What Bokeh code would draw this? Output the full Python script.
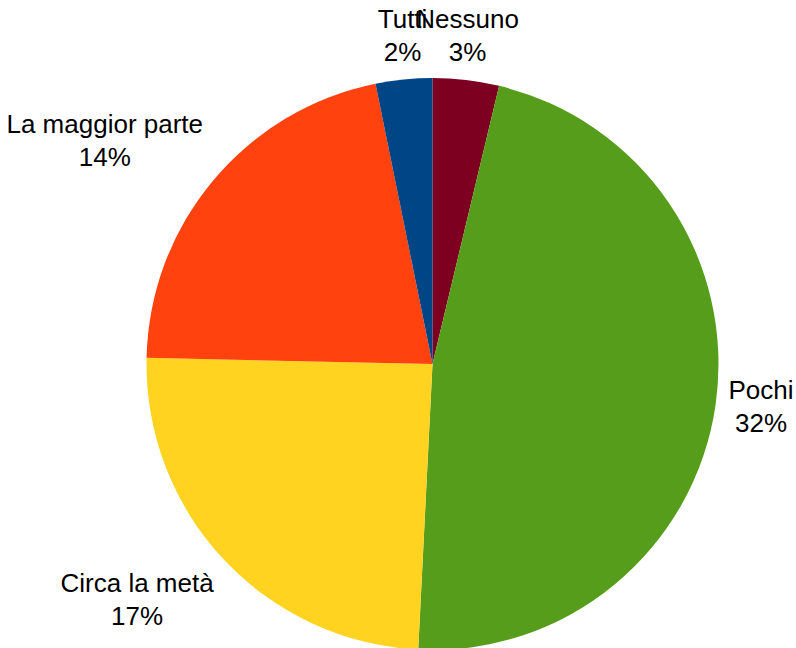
import math
from bokeh.plotting import figure
from bokeh.models import ColumnDataSource, Range1d
from bokeh.core.properties import value
from bokeh.embed import file_html
from bokeh.resources import INLINE

categories = ["Nessuno", "Pochi", "Circa la metà", "La maggior parte", "Tutti"]
values = [2.52, 31.68, 16.53, 14.45, 2.15]
colors = ["#7E0021", "#579D1C", "#FFD320", "#FF420E", "#004586"]

W, H = 796, 648
cx, cy = 432, 284.5   # pie centre in plot units (1 unit = 1 px)
R = 286
LABEL_GAP = 13

total = sum(values)
start_cw, end_cw = [], []
acc = 0.0
for v in values:
    start_cw.append(acc)
    acc += v / total * 2 * math.pi
    end_cw.append(acc)

start_angle = [math.pi / 2 - a for a in start_cw]
end_angle = [math.pi / 2 - a for a in end_cw]

lx, ly, anchors, texts = [], [], [], []
for cat, v, a0, a1 in zip(categories, values, start_cw, end_cw):
    mid = (a0 + a1) / 2
    s, c = math.sin(mid), math.cos(mid)
    r = R + LABEL_GAP
    lx.append(cx + r * s)
    ly.append(cy + r * c)
    h = "center" if abs(s) < 0.3 else ("left" if s > 0 else "right")
    vv = "center" if abs(c) < 0.3 else ("bottom" if c > 0 else "top")
    if vv == "center" and h == "center":
        anc = "center"
    elif vv == "center":
        anc = "center_" + h
    else:
        anc = vv + "_" + h
    anchors.append(anc)
    texts.append(f"{cat}\n{int(math.floor(v + 0.5))}%")

src = ColumnDataSource(dict(start=start_angle, end=end_angle, color=colors))
lsrc = ColumnDataSource(dict(x=lx, y=ly, text=texts, anchor=anchors))

p = figure(width=W, height=H, x_range=Range1d(0, W), y_range=Range1d(0, H),
           output_backend="svg", toolbar_location=None, min_border=0)
p.axis.visible = False
p.grid.visible = False
p.outline_line_color = None
p.background_fill_color = "white"
p.border_fill_color = "white"

p.wedge(x=cx, y=cy, radius=R, radius_units="screen", start_angle="start",
        end_angle="end", direction="clock", fill_color="color",
        line_color=None, source=src)

p.text(x="x", y="y", text="text", anchor="anchor", source=lsrc,
       text_align="center", text_font=value("Liberation Sans"),
       text_font_size="26px", text_color="#000000", text_line_height=1.1)

open("out.html", "w").write(file_html(p, INLINE))
